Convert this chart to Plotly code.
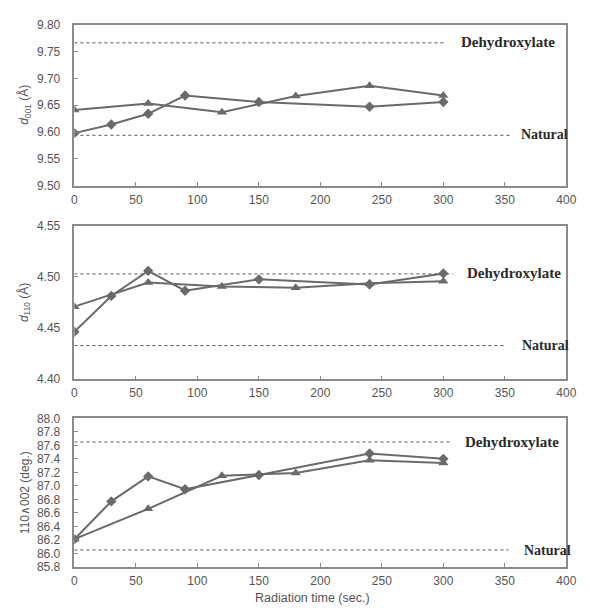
import plotly.graph_objects as go

# ---- data ----
x_diamond = [0, 30, 60, 90, 150, 240, 300]
x_triangle = [0, 60, 120, 180, 240, 300]

d001_diamond = [9.598, 9.614, 9.634, 9.668, 9.656, 9.647, 9.656]
d001_triangle = [9.641, 9.653, 9.637, 9.667, 9.686, 9.668]

d110_diamond = [4.4465, 4.4815, 4.506, 4.4866, 4.4977, 4.4927, 4.5035]
d110_triangle = [4.471, 4.4946, 4.4908, 4.4895, 4.494, 4.4958]

ang_diamond = [86.21, 86.77, 87.14, 86.95, 87.16, 87.48, 87.40]
ang_triangle = [86.21, 86.66, 87.15, 87.19, 87.38, 87.34]

# reference levels: (dehydroxylate, natural)
ref_d001 = [9.766, 9.594]
ref_d110 = [4.503, 4.433]
ref_ang = [87.65, 86.05]
ref_labels = ["Dehydroxylate", "Natural"]
ref_line_end = [[302, 355], [308, 350], [305, 353]]

y_titles = ["<i>d</i><sub>001</sub> (Å)", "<i>d</i><sub>110</sub> (Å)", "110∧002 (deg.)"]
x_title = "Radiation time (sec.)"

W, H = 590, 611
LINE = "#6a6a6a"
TICKC = "#555555"

def py(px):
    return 1 - px / H

panels = [
    dict(top=18, bottom=183, rng=[9.50, 9.80], dtick=0.05, fmt=".2f",
         d=d001_diamond, t=d001_triangle, ref=ref_d001,
         lab_x=[466, 528], lab_y=[36, 131]),
    dict(top=224, bottom=381, rng=[4.40, 4.55], dtick=0.05, fmt=".2f",
         d=d110_diamond, t=d110_triangle, ref=ref_d110,
         lab_x=[472, 529], lab_y=[272, 346]),
    dict(top=421, bottom=573, rng=[85.8, 88.0], dtick=0.2, fmt=".1f",
         d=ang_diamond, t=ang_triangle, ref=ref_ang,
         lab_x=[470, 531], lab_y=[445, 556]),
]
label_sizes = [15, 14]

fig = go.Figure()
annotations = []
shapes = []
x0px, x1px = 73, 576

for i, p in enumerate(panels):
    n = "" if i == 0 else str(i + 1)
    xa, ya = "x" + n, "y" + n
    fig.add_trace(go.Scatter(x=x_diamond, y=p["d"], xaxis=xa, yaxis=ya, mode="lines+markers",
                             line=dict(color=LINE, width=2),
                             marker=dict(symbol="diamond", size=8, color=LINE),
                             showlegend=False))
    fig.add_trace(go.Scatter(x=x_triangle, y=p["t"], xaxis=xa, yaxis=ya, mode="lines+markers",
                             line=dict(color=LINE, width=2),
                             marker=dict(symbol="triangle-up", size=9, color=LINE),
                             showlegend=False))
    axis_common = dict(showgrid=False, zeroline=False, showline=True, linecolor="#8a8a8a",
                       linewidth=1.5, mirror=True, ticks="inside", ticklen=4, tickcolor="#8a8a8a",
                       tickfont=dict(family="Arial, Liberation Sans, sans-serif", size=12, color=TICKC))
    fig.update_layout(**{
        ("xaxis" + n): dict(domain=[x0px / W, x1px / W], range=[0, 400], dtick=50,
                            anchor=ya, ticklabelstandoff=2, **axis_common),
        ("yaxis" + n): dict(domain=[py(p["bottom"]), py(p["top"])], range=p["rng"],
                            dtick=p["dtick"], tickformat=p["fmt"], anchor=xa,
                            ticklabelstandoff=10, **axis_common),
    })
    for k in range(2):
        shapes.append(dict(type="line", xref=xa, yref=ya, x0=0, x1=ref_line_end[i][k],
                           y0=p["ref"][k], y1=p["ref"][k],
                           line=dict(color="#555555", width=1, dash="dot"), layer="below"))
        annotations.append(dict(text="<b>" + ref_labels[k] + "</b>", xref="paper", yref="paper",
                                x=p["lab_x"][k] / W, y=py(p["lab_y"][k]), xanchor="left",
                                yanchor="middle", showarrow=False,
                                font=dict(family="Liberation Serif, Times New Roman, serif",
                                          size=label_sizes[k], color="#2a2a2a")))
    annotations.append(dict(text=y_titles[i], xref="paper", yref="paper", x=22 / W,
                            y=py((p["top"] + p["bottom"]) / 2), textangle=-90,
                            xanchor="center", yanchor="middle", showarrow=False,
                            font=dict(family="Arial, Liberation Sans, sans-serif", size=12,
                                      color=TICKC)))

annotations.append(dict(text=x_title, xref="paper", yref="paper", x=316 / W, y=py(605),
                        xanchor="center", yanchor="middle", showarrow=False,
                        font=dict(family="Arial, Liberation Sans, sans-serif", size=12.5,
                                  color=TICKC)))

fig.update_layout(width=W, height=H, margin=dict(l=0, r=0, t=0, b=0),
                  plot_bgcolor="white", paper_bgcolor="white",
                  annotations=annotations, shapes=shapes)

fig.write_html("out.html", config={"displayModeBar": False},
               post_script="document.body.style.margin='0';document.body.style.overflow='hidden';")
